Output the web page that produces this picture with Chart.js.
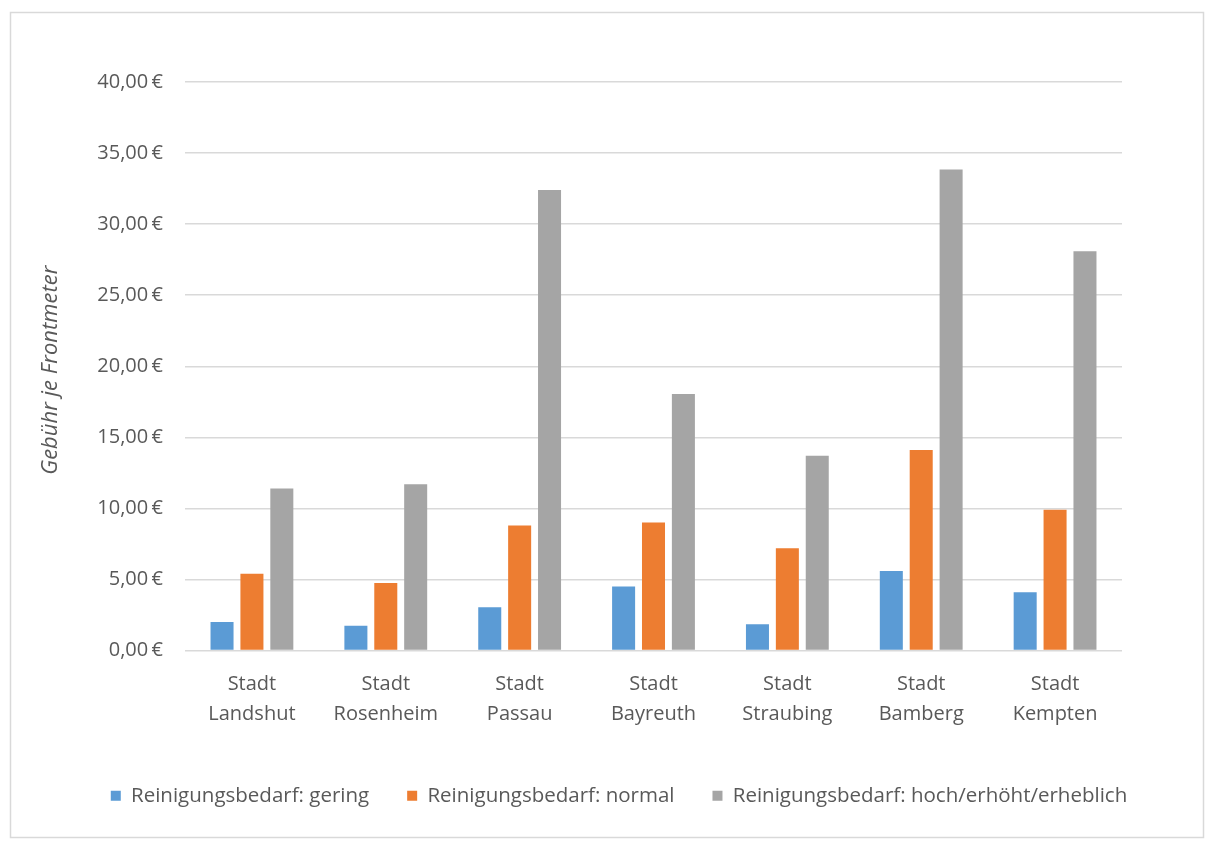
<!DOCTYPE html>
<html>
<head>
<meta charset="utf-8">
<script src="https://cdn.jsdelivr.net/npm/chart.js@4/dist/chart.umd.min.js"></script>
<style>
  html, body { margin: 0; padding: 0; background: #ffffff; }
  canvas { display: block; }
</style>
</head>
<body>
<canvas id="chart" width="1205" height="841"></canvas>
<script>
// Street-cleaning fee per metre of frontage, by city and cleaning requirement
const cities = [
  ['Stadt', 'Landshut'],
  ['Stadt', 'Rosenheim'],
  ['Stadt', 'Passau'],
  ['Stadt', 'Bayreuth'],
  ['Stadt', 'Straubing'],
  ['Stadt', 'Bamberg'],
  ['Stadt', 'Kempten']
];
const seriesNames = [
  'Reinigungsbedarf: gering',
  'Reinigungsbedarf: normal',
  'Reinigungsbedarf: hoch/erhöht/erheblich'
];
const feeLow    = [2.00, 1.75, 3.05, 4.50, 1.85, 5.60, 4.10];
const feeNormal = [5.40, 4.75, 8.80, 9.00, 7.20, 14.10, 9.90];
const feeHigh   = [11.40, 11.70, 32.40, 18.05, 13.70, 33.85, 28.10];
const yAxisTitle = 'Gebühr je Frontmeter';

const FONT = '"Open Sans", Lato, "Liberation Sans", sans-serif';
const TEXT = '#595959';

// Light frame around the whole chart
const framePlugin = {
  id: 'frame',
  beforeDraw(chart) {
    const ctx = chart.ctx;
    ctx.save();
    ctx.fillStyle = '#ffffff';
    ctx.fillRect(0, 0, chart.width, chart.height);
    ctx.strokeStyle = '#d9d9d9';
    ctx.lineWidth = 1.5;
    ctx.strokeRect(10.5, 12.5, 1193, 825);
    ctx.restore();
  }
};

// Rotated, italic value-axis title
const yTitlePlugin = {
  id: 'yTitle',
  afterDraw(chart) {
    const ctx = chart.ctx;
    const area = chart.chartArea;
    ctx.save();
    ctx.translate(51, (area.top + area.bottom) / 2 + 4);
    ctx.rotate(-Math.PI / 2);
    ctx.font = 'italic 22px ' + FONT;
    ctx.fillStyle = TEXT;
    ctx.textAlign = 'center';
    ctx.textBaseline = 'middle';
    ctx.fillText(yAxisTitle, 0, 0);
    ctx.restore();
  }
};

// Centre the legend row under the full frame rather than the plot
const legendShiftPlugin = {
  id: 'legendShift',
  afterLayout(chart) {
    const lg = chart.legend;
    if (!lg) return;
    const shift = 619 - (lg.left + lg.right) / 2;
    lg.left += shift;
    lg.right += shift;
  }
};

const euro = v => v.toFixed(2).replace('.', ',') + '\u2009€';

new Chart(document.getElementById('chart'), {
  type: 'bar',
  data: {
    labels: cities,
    datasets: [
      { label: seriesNames[0], data: feeLow,    backgroundColor: '#5b9bd5' },
      { label: seriesNames[1], data: feeNormal, backgroundColor: '#ed7d31' },
      { label: seriesNames[2], data: feeHigh,   backgroundColor: '#a5a5a5' }
    ]
  },
  options: {
    responsive: false,
    animation: false,
    datasets: {
      bar: { categoryPercentage: 0.67, barPercentage: 0.77 }
    },
    layout: { padding: { left: 10, right: 83, top: 82, bottom: 25 } },
    plugins: {
      legend: {
        position: 'bottom',
        labels: {
          boxWidth: 10,
          boxHeight: 10,
          padding: 38,
          color: TEXT,
          font: { family: FONT, size: 20.5 }
        }
      },
      tooltip: { enabled: false }
    },
    scales: {
      x: {
        grid: { display: false },
        border: { display: false },
        ticks: {
          color: TEXT,
          padding: 11,
          maxRotation: 0,
          font: { family: FONT, size: 20, lineHeight: '30px' }
        },
        afterFit(scale) { scale.height = 97; }
      },
      y: {
        min: 0,
        max: 40,
        grid: { color: '#d9d9d9', lineWidth: 1.5, drawTicks: false },
        border: { display: false },
        ticks: {
          stepSize: 5,
          padding: 22,
          color: TEXT,
          font: { family: FONT, size: 20 },
          callback: v => euro(v)
        },
        afterFit(scale) { scale.width = 175; }
      }
    }
  },
  plugins: [framePlugin, yTitlePlugin, legendShiftPlugin]
});
</script>
</body>
</html>
